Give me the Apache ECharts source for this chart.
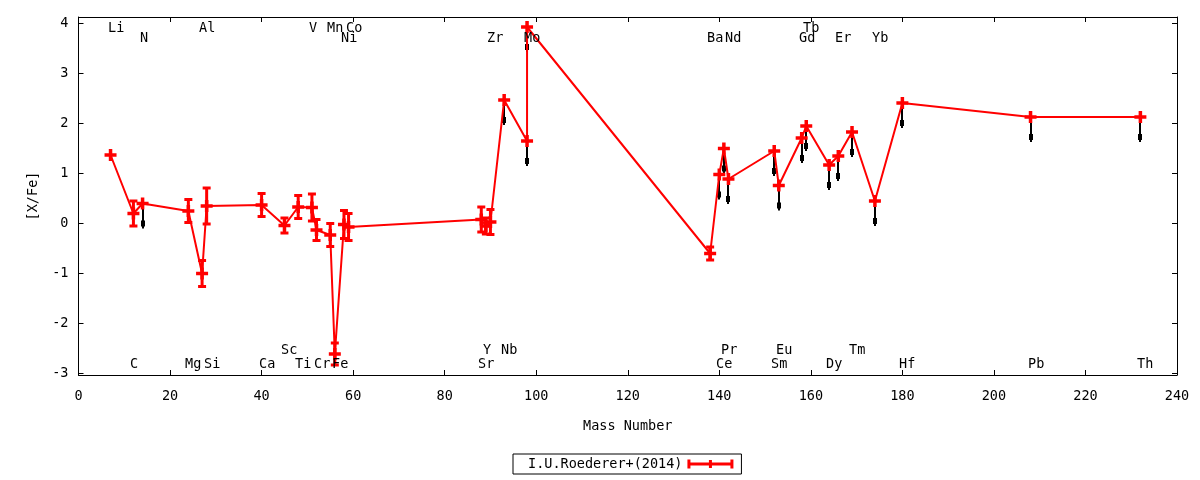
<!DOCTYPE html>
<html>
<head>
<meta charset="utf-8">
<script src="https://cdn.jsdelivr.net/npm/echarts@6/dist/echarts.min.js"></script>
<style>
  html, body { margin: 0; padding: 0; background: #fff; }
  #main { width: 1200px; height: 480px; }
</style>
</head>
<body>
<div id="main"></div>
<script>
var myChart = echarts.init(document.getElementById('main'));

// abundance pattern, in plotting order (the line follows this order)
var mass  = [7, 12, 14, 24, 27, 28, 40, 45, 48, 51, 52, 55, 56, 58, 59,
             88, 89, 90, 93, 98, 98,
             138, 140, 141, 142, 152, 153, 158, 159, 164, 166, 169, 174, 180, 208, 232];
var xfe   = [1.37, 0.20, 0.40, 0.25, -1.00, 0.35, 0.37, -0.04, 0.33, 0.32, -0.13, -0.23, -2.61, -0.02, -0.07,
             0.08, -0.05, 0.03, 2.47, 1.65, 3.93,
             -0.60, 0.98, 1.50, 0.89, 1.45, 0.76, 1.71, 1.95, 1.17, 1.35, 1.83, 0.45, 2.41, 2.13, 2.13];
var xfeErr = [0, 0.25, 0, 0.23, 0.26, 0.36, 0.23, 0.15, 0.23, 0.27, 0.21, 0.23, 0.22, 0.28, 0.27,
             0.25, 0.16, 0.25, 0, 0, 0,
             0.13, 0, 0, 0, 0, 0, 0, 0, 0, 0, 0, 0, 0, 0, 0];
// 1 = upper limit (drawn as a downward arrow)
var upperLimit = [0, 0, 1, 0, 0, 0, 0, 0, 0, 0, 0, 0, 0, 0, 0,
             0, 0, 0, 1, 1, 1,
             0, 1, 1, 1, 1, 1, 1, 1, 1, 1, 1, 1, 1, 1, 1];

// element labels: name, mass, row (0,1 = top rows, 2,3 = bottom rows)
var labelName = ['Li', 'Al', 'V', 'Mn', 'Co', 'Tb',
                 'N', 'Ni', 'Zr', 'Mo', 'Ba', 'Nd', 'Gd', 'Er', 'Yb',
                 'Sc', 'Y', 'Nb', 'Pr', 'Eu', 'Tm',
                 'C', 'Mg', 'Si', 'Ca', 'Ti', 'Cr', 'Fe', 'Sr', 'Ce', 'Sm', 'Dy', 'Hf', 'Pb', 'Th'];
var labelMass = [7, 27, 51, 55, 59, 159,
                 14, 58, 90, 98, 138, 142, 158, 166, 174,
                 45, 89, 93, 141, 153, 169,
                 12, 24, 28, 40, 48, 52, 56, 88, 140, 152, 164, 180, 208, 232];
var labelRow  = [0, 0, 0, 0, 0, 0,
                 1, 1, 1, 1, 1, 1, 1, 1, 1,
                 2, 2, 2, 2, 2, 2,
                 3, 3, 3, 3, 3, 3, 3, 3, 3, 3, 3, 3, 3, 3];

var yTicks = [-3, -2, -1, 0, 1, 2, 3, 4];

// layout
var rowY = [3.92, 3.72, -2.53, -2.80];
var FONT = 'DejaVu Sans Mono';
var FS = 13.5;
var RED = '#ff0000';
var plus = 'path://M4.25,0H7.75V4.25H12V7.75H7.75V12H4.25V7.75H0V4.25H4.25Z';

var lineData = mass.map(function (m, i) { return [m, xfe[i]]; });
var errData = [];
var ulData = [];
mass.forEach(function (m, i) {
    if (xfeErr[i] > 0) errData.push([m, xfe[i], xfeErr[i]]);
    if (upperLimit[i]) ulData.push([m, xfe[i]]);
});
var labelData = labelName.map(function (n, i) { return [labelMass[i], rowY[labelRow[i]], n]; });

function axisX(pos, showLabel) {
    return {
        type: 'value', position: pos, min: 0, max: 240, interval: 20,
        name: showLabel ? 'Mass Number' : '',
        nameLocation: 'middle', nameGap: 44,
        nameTextStyle: { fontFamily: FONT, fontSize: FS, color: '#000' },
        axisLine: { show: true, onZero: false, lineStyle: { color: '#000', width: 1 } },
        axisTick: { show: true, inside: true, length: 5, lineStyle: { color: '#000' } },
        axisLabel: { show: showLabel, margin: 14, fontFamily: FONT, fontSize: FS, color: '#000' },
        splitLine: { show: false }
    };
}
function axisY(pos, showLabel) {
    return {
        type: 'value', position: pos, min: -3.03, max: 4.13,
        name: showLabel ? '[X/Fe]' : '',
        nameLocation: 'middle', nameGap: 38, nameRotate: 90,
        nameTextStyle: { fontFamily: FONT, fontSize: FS, color: '#000' },
        axisLine: { show: true, onZero: false, lineStyle: { color: '#000', width: 1 } },
        axisTick: { show: true, inside: true, length: 5, customValues: yTicks, lineStyle: { color: '#000' } },
        axisLabel: { show: showLabel, margin: 10, customValues: yTicks, fontFamily: FONT, fontSize: FS, color: '#000' },
        splitLine: { show: false }
    };
}

var option = {
    backgroundColor: '#fff',
    animation: false,
    grid: { left: 78.5, right: 23, top: 17, bottom: 105 },
    xAxis: [axisX('bottom', true), axisX('top', false)],
    yAxis: [axisY('left', true), axisY('right', false)],
    legend: {
        left: 513, top: 454,
        align: 'right',
        padding: [3, 8, 3, 15],
        borderColor: '#000', borderWidth: 1, borderRadius: 0,
        itemWidth: 46, itemHeight: 9,
        icon: 'path://M0,3H46V6H0Z M0,0H3V9H0Z M43,0H46V9H43Z M21.5,0.5H24.5V8.5H21.5Z',
        textStyle: { fontFamily: FONT, fontSize: FS, color: '#000' },
        data: ['I.U.Roederer+(2014)']
    },
    series: [{
        // upper limits: black arrows pointing down
        type: 'custom',
        name: 'limits',
        z: 1,
        silent: true,
        data: ulData,
        renderItem: function (params, api) {
            var p0 = api.coord([api.value(0), api.value(1)]);
            var p1 = api.coord([api.value(0), api.value(1) - 0.5]);
            var x = Math.round(p0[0]);
            return {
                type: 'group',
                children: [{
                    type: 'line',
                    shape: { x1: x, y1: p0[1], x2: x, y2: p1[1] },
                    style: { stroke: '#000', lineWidth: 2 }
                }, {
                    type: 'rect',
                    shape: { x: x - 2, y: p1[1] - 8, width: 4, height: 6 },
                    style: { fill: '#000' }
                }]
            };
        }
    }, {
        // error bars
        type: 'custom',
        name: 'errors',
        z: 2,
        silent: true,
        data: errData,
        renderItem: function (params, api) {
            var x = api.value(0), y = api.value(1), e = api.value(2);
            var top = api.coord([x, y + e]);
            var bot = api.coord([x, y - e]);
            var st = { stroke: RED, lineWidth: 3 };
            return {
                type: 'group',
                children: [{
                    type: 'line', shape: { x1: top[0], y1: top[1], x2: bot[0], y2: bot[1] }, style: st
                }, {
                    type: 'line', shape: { x1: top[0] - 4, y1: top[1], x2: top[0] + 4, y2: top[1] }, style: st
                }, {
                    type: 'line', shape: { x1: bot[0] - 4, y1: bot[1], x2: bot[0] + 4, y2: bot[1] }, style: st
                }]
            };
        }
    }, {
        type: 'line',
        name: 'I.U.Roederer+(2014)',
        z: 3,
        data: lineData,
        symbol: plus,
        symbolSize: 12,
        showAllSymbol: true,
        itemStyle: { color: RED },
        lineStyle: { color: RED, width: 2 },
        emphasis: { disabled: true }
    }, {
        // element labels
        type: 'custom',
        name: 'labels',
        z: 4,
        silent: true,
        data: labelData,
        renderItem: function (params, api) {
            var p = api.coord([api.value(0), api.value(1)]);
            return {
                type: 'text',
                x: Math.round(p[0]) - 3,
                y: Math.round(p[1]),
                style: {
                    text: labelData[params.dataIndex][2],
                    fill: '#000',
                    font: FS + 'px "' + FONT + '"',
                    textAlign: 'left',
                    textVerticalAlign: 'middle'
                }
            };
        }
    }]
};

myChart.setOption(option);
</script>
</body>
</html>
